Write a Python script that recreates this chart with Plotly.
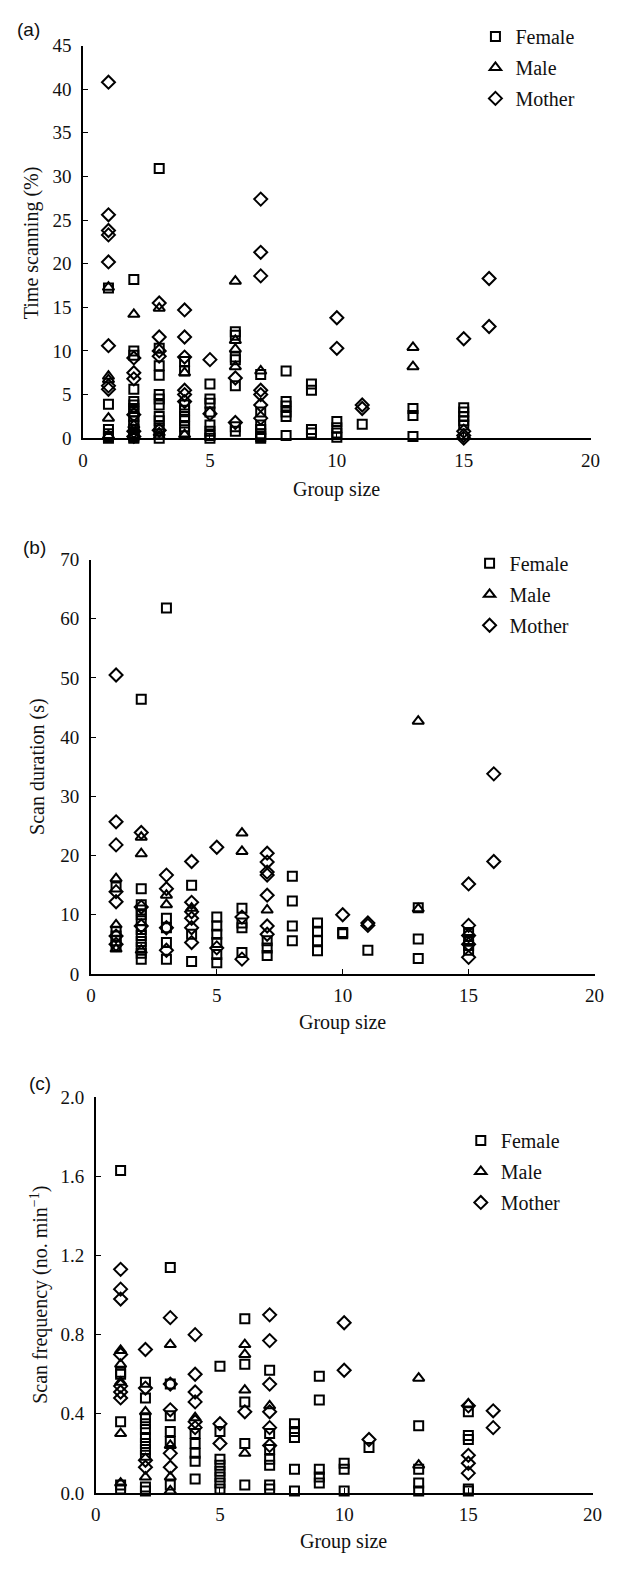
import plotly.graph_objects as go

# ---------------- data (group size -> values) ----------------
# Panel (a): Time scanning (%)
a_female = {1: [17.2, 3.9, 1.0, 0.5, 0.2, 0.0],
            2: [18.2, 10.0, 9.5, 5.6, 4.2, 3.8, 3.4, 3.0, 2.5, 2.0, 1.5, 1.0, 0.6, 0.3, 0.1, 0.0],
            3: [30.9, 10.3, 8.3, 7.2, 5.0, 4.5, 3.8, 2.5, 2.0, 1.2, 0.5, 0.0],
            4: [8.8, 7.7, 3.8, 3.2, 2.5, 2.0, 1.3, 0.7],
            5: [6.2, 4.5, 4.0, 3.0, 1.5, 0.8, 0.3, 0.0],
            6: [12.2, 11.8, 9.3, 9.0, 6.0, 1.3, 0.8],
            7: [7.3, 3.0, 1.5, 1.0, 0.5, 0.2, 0.0],
            8: [7.7, 4.2, 3.7, 3.0, 2.5, 0.3],
            9: [6.2, 5.5, 1.0, 0.6],
            10: [1.9, 1.2, 0.6, 0.1],
            11: [1.6],
            13: [3.4, 2.6, 0.2],
            15: [3.5, 3.0, 2.5, 2.0, 1.5]}
a_male = {1: [17.3, 7.1, 6.7, 2.3, 0.3],
          2: [14.2, 1.5, 0.3],
          3: [14.9, 0.6, 0.2],
          4: [7.5, 0.4],
          6: [18.0, 11.2, 10.2, 8.2],
          7: [7.7],
          13: [10.4, 8.2]}
a_mother = {1: [40.8, 25.6, 23.8, 23.3, 20.2, 10.6, 6.0, 5.6],
            2: [9.2, 7.5, 6.8, 2.7, 0.8, 0.2],
            3: [15.5, 11.6, 10.0, 9.4, 0.9],
            4: [14.7, 11.6, 9.3, 5.5, 5.0, 4.2],
            5: [9.0, 2.8],
            6: [6.9, 1.8],
            7: [27.4, 21.3, 18.6, 5.5, 5.0, 3.8, 2.3],
            10: [13.8, 10.3],
            11: [3.8, 3.4],
            15: [11.4, 0.8, 0.3, 0.0],
            16: [18.3, 12.8]}

# Panel (b): Scan duration (s)
b_female = {1: [14.7, 7.2, 6.4, 5.6, 4.7],
            2: [46.4, 14.4, 11.7, 10.8, 10.0, 9.0, 7.5, 6.5, 5.5, 4.5, 3.5, 2.5],
            3: [61.8, 9.4, 7.8, 5.3, 2.5],
            4: [15.0, 6.7, 2.1],
            5: [9.6, 8.1, 6.7, 5.3, 3.3, 1.9],
            6: [11.1, 8.6, 7.8, 3.6],
            7: [5.6, 4.4, 3.1],
            8: [16.5, 12.3, 8.1, 5.6],
            9: [8.6, 7.2, 5.6, 3.9],
            10: [7.0, 6.8],
            11: [4.0],
            13: [11.2, 5.9, 2.6],
            15: [7.0, 5.8, 4.8, 4.0]}
b_male = {1: [16.1, 8.3, 4.2],
          2: [23.1, 20.3, 4.0],
          3: [13.3, 11.7],
          4: [11.1],
          6: [23.8, 20.7],
          7: [10.8],
          13: [42.7, 11.0]}
b_mother = {1: [50.5, 25.7, 21.8, 13.9, 12.2, 6.4, 5.0],
            2: [23.9, 11.3, 8.1],
            3: [16.7, 14.4, 7.8, 4.0],
            4: [19.0, 12.1, 10.5, 9.4, 7.8, 5.3],
            5: [21.4, 4.4],
            6: [9.6, 2.5],
            7: [20.4, 18.9, 17.2, 16.7, 13.3, 8.1, 6.7],
            10: [10.0],
            11: [8.6, 8.2],
            15: [15.2, 8.2, 6.5, 5.0, 2.8],
            16: [33.8, 19.0]}

# Panel (c): Scan frequency (no. min^-1)
c_female = {1: [1.63, 0.61, 0.60, 0.36, 0.04, 0.02],
            2: [0.56, 0.48, 0.38, 0.35, 0.32, 0.28, 0.25, 0.22, 0.19, 0.03, 0.01],
            3: [1.14, 0.55, 0.39, 0.31, 0.26, 0.04],
            4: [0.30, 0.25, 0.20, 0.16, 0.07],
            5: [0.64, 0.31, 0.17, 0.14, 0.11, 0.08, 0.05, 0.02],
            6: [0.88, 0.65, 0.46, 0.25, 0.04],
            7: [0.62, 0.30, 0.22, 0.17, 0.14, 0.04, 0.02],
            8: [0.35, 0.31, 0.28, 0.12, 0.01],
            9: [0.59, 0.47, 0.12, 0.08, 0.05],
            10: [0.15, 0.12, 0.01],
            11: [0.23],
            13: [0.34, 0.12, 0.05, 0.01],
            15: [0.41, 0.29, 0.27, 0.02, 0.01]}
c_male = {1: [0.72, 0.65, 0.56, 0.30, 0.05],
          2: [0.41, 0.08],
          3: [0.75, 0.24, 0.08, 0.01],
          4: [0.38],
          6: [0.75, 0.70, 0.52, 0.20],
          7: [0.44],
          13: [0.58, 0.14],
          15: [0.45]}
c_mother = {1: [1.13, 1.03, 0.98, 0.70, 0.54, 0.51, 0.48],
            2: [0.725, 0.53, 0.165, 0.13],
            3: [0.886, 0.55, 0.42, 0.20, 0.13],
            4: [0.80, 0.60, 0.51, 0.46, 0.36, 0.33],
            5: [0.35, 0.25],
            6: [0.41],
            7: [0.90, 0.77, 0.55, 0.41, 0.33, 0.24],
            10: [0.86, 0.62],
            11: [0.27],
            15: [0.44, 0.19, 0.15, 0.10],
            16: [0.415, 0.33]}

series_names = ["Female", "Male", "Mother"]
symbols = ["square-open", "triangle-up-open", "diamond-open"]
sizes = [9, 10, 10]
panels = [
    ([a_female, a_male, a_mother], "x", "y", "legend"),
    ([b_female, b_male, b_mother], "x2", "y2", "legend2"),
    ([c_female, c_male, c_mother], "x3", "y3", "legend3"),
]

W, H = 625, 1571
SERIF = "Liberation Serif, Times New Roman, serif"
SANS = "Liberation Sans, Arial, sans-serif"

def px(xp):
    return xp / W

def py(yp):
    return 1 - yp / H

fig = go.Figure()
for series, xa, ya, lg in panels:
    for name, sym, sz, d in zip(series_names, symbols, sizes, series):
        xs, ys = [], []
        for g, vals in d.items():
            xs += [g] * len(vals)
            ys += vals
        fig.add_trace(go.Scatter(
            x=xs, y=ys, mode="markers", name=name, xaxis=xa, yaxis=ya,
            legend=lg, legendgroup=lg + name, cliponaxis=False,
            marker=dict(symbol=sym, size=sz, color="black",
                        line=dict(color="black", width=2)),
        ))

axis_common = dict(showline=True, linecolor="black", linewidth=1.5, ticks="inside",
                   ticklen=5, tickwidth=1.3, tickcolor="black", showgrid=False,
                   zeroline=False, tickfont=dict(family=SERIF, size=19, color="#111"))

# pixel geometry: (x0, x20, ytop, ybottom)
geo = [(80, 600, 36, 434), (88, 604, 557, 977), (93, 602, 1102, 1503)]
yranges = [(0, 45, 5, None), (0, 70, 10, None), (0, 2.0, 0.4, ".1f")]

layout = dict(width=W, height=H, margin=dict(l=0, r=0, t=0, b=0),
              paper_bgcolor="white", plot_bgcolor="white", showlegend=True)
for i, ((x0, x1, yt, yb), (ylo, yhi, dy, fmt)) in enumerate(zip(geo, yranges)):
    sx = "" if i == 0 else str(i + 1)
    layout["xaxis" + sx] = dict(axis_common, domain=[px(x0), px(x1)], range=[0, 20],
                                 dtick=5, tick0=0, anchor="y" + sx, ticklabelstandoff=4)
    ya = dict(axis_common, domain=[py(yb), py(yt)], range=[ylo, yhi], dtick=dy,
              tick0=0, anchor="x" + sx, ticklabelstandoff=6)
    if fmt:
        ya["tickformat"] = fmt
    layout["yaxis" + sx] = ya

legend_pos = [(482, 7), (476, 541), (467, 1126)]
for i, (lx, ly) in enumerate(legend_pos):
    key = "legend" if i == 0 else "legend" + str(i + 1)
    layout[key] = dict(x=px(lx), y=py(ly), xanchor="left", yanchor="top",
                       bgcolor="rgba(0,0,0,0)", borderwidth=0,
                       font=dict(family=SERIF, size=20, color="#111"),
                       traceorder="grouped", tracegroupgap=2, itemsizing="trace")

annotations = []
# y-axis titles
for txt, xc, yc in [("Time scanning (%)", 27, 236),
                    ("Scan duration (s)", 34, 767),
                    ("Scan frequency (no. min<sup>−1</sup>)", 35, 1302)]:
    annotations.append(dict(text=txt, x=px(xc), y=py(yc), xref="paper", yref="paper",
                            showarrow=False, textangle=-90, xanchor="center", yanchor="middle",
                            font=dict(family=SERIF, size=20, color="#111")))
# x-axis titles
for xc, yc in [(340, 486), (346, 1026), (347, 1552)]:
    annotations.append(dict(text="Group size", x=px(xc), y=py(yc), xref="paper", yref="paper",
                            showarrow=False, xanchor="center", yanchor="middle",
                            font=dict(family=SERIF, size=20, color="#111")))
# panel labels
for txt, xc, yc in [("(a)", 24, 20), ("(b)", 30, 545), ("(c)", 36, 1088)]:
    annotations.append(dict(text=txt, x=px(xc), y=py(yc), xref="paper", yref="paper",
                            showarrow=False, xanchor="center", yanchor="middle",
                            font=dict(family=SANS, size=19, color="#111")))
layout["annotations"] = annotations

fig.update_layout(**layout)
fig.write_html("out.html")
